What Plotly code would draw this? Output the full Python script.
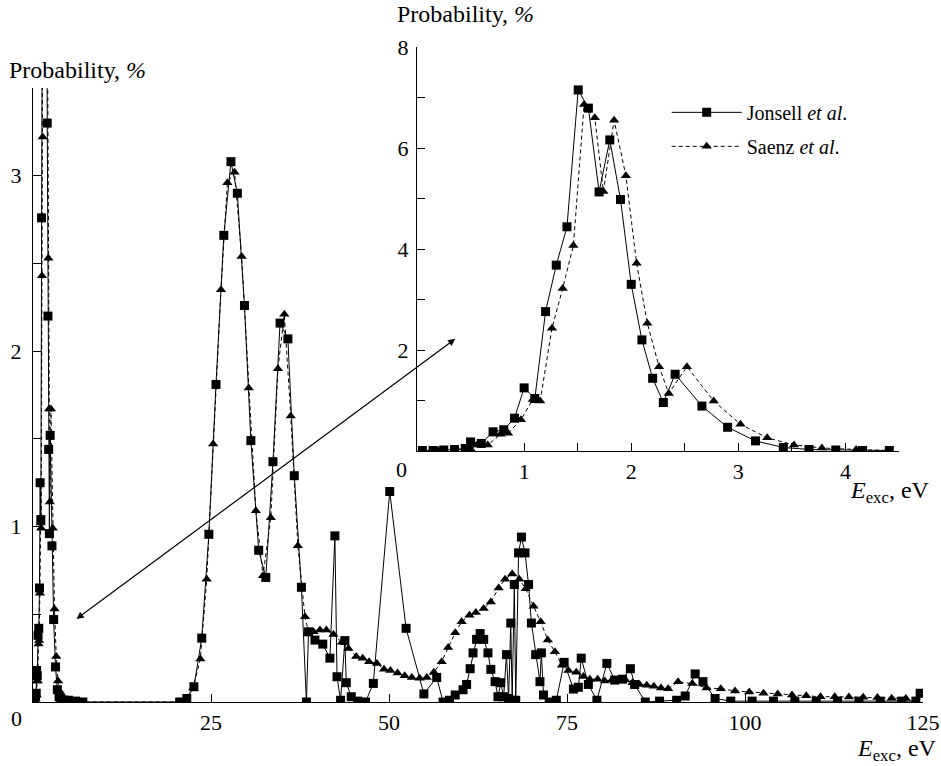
import plotly.graph_objects as go

# ---------- data: low-energy region (inset, 0-4.5 eV) ----------
jonsell_low_e = [0.05, 0.15, 0.25, 0.35, 0.45, 0.50, 0.60, 0.71, 0.81, 0.91, 1.00, 1.10, 1.20, 1.30, 1.40,
                 1.505, 1.60, 1.70, 1.80, 1.90, 2.00, 2.10, 2.20, 2.30, 2.41, 2.66, 2.90, 3.16, 3.42, 3.66,
                 3.91, 4.16, 4.41]
jonsell_low_p = [0.01, 0.01, 0.02, 0.03, 0.05, 0.18, 0.15, 0.38, 0.42, 0.65, 1.25, 1.04, 2.76, 3.68, 4.44,
                 7.15, 6.79, 5.13, 6.16, 4.98, 3.30, 2.20, 1.44, 0.96, 1.52, 0.89, 0.47, 0.20, 0.07, 0.03,
                 0.02, 0.01, 0.01]
saenz_low_e = [0.05, 0.20, 0.35, 0.50, 0.56, 0.66, 0.78, 0.85, 0.97, 1.08, 1.15, 1.26, 1.36, 1.46, 1.56,
               1.66, 1.74, 1.84, 1.95, 2.05, 2.15, 2.26, 2.35, 2.52, 2.77, 3.02, 3.27, 3.52, 3.78, 4.10, 4.40]
saenz_low_p = [0.01, 0.01, 0.02, 0.04, 0.12, 0.12, 0.33, 0.35, 0.62, 1.02, 0.99, 2.43, 3.22, 4.07, 6.86,
               6.60, 5.14, 6.55, 5.45, 3.72, 2.53, 1.67, 1.14, 1.67, 0.99, 0.53, 0.26, 0.12, 0.06, 0.03, 0.01]

# ---------- data: high-energy region (main panel, > 4.5 eV) ----------
jonsell_high_e = [5.0, 6.0, 7.0, 20.6, 21.6, 22.6, 23.7, 24.7, 25.7, 26.8, 27.8, 28.7, 29.7, 30.6, 31.7,
                  32.7, 33.7, 34.7, 35.8, 36.7, 37.7, 38.4, 38.7, 39.6, 40.7, 41.7, 42.4, 42.7, 43.2, 43.8,
                  44.0, 44.7, 45.6, 46.7, 47.8, 50.1, 52.4, 54.9, 56.7, 57.6, 58.5, 59.3, 60.4, 60.9, 61.4,
                  61.8, 62.3, 62.8, 63.3, 63.9, 64.3, 64.9, 65.3, 65.7, 66.1, 66.5, 66.8, 67.1, 67.3, 67.6,
                  67.8, 68.2, 68.6, 69.1, 69.6, 70.0, 70.6, 71.2, 71.4, 71.7, 72.5, 73.5, 74.6, 75.9, 76.6,
                  77.0, 78.0, 79.2, 80.6, 81.7, 82.8, 83.9, 84.5, 86.0, 88.0, 90.4, 91.6, 93.0, 94.1, 95.8,
                  98.0, 101.0, 104.0, 107.0, 110.0, 113.0, 116.0, 119.0, 122.0, 124.0, 124.6]
jonsell_high_p = [0.01, 0.005, 0.0, 0.0, 0.02, 0.087, 0.364, 0.956, 1.81, 2.66, 3.08, 2.90, 2.26, 1.49, 0.865,
                  0.71, 1.37, 2.16, 2.07, 1.29, 0.654, 0.0, 0.40, 0.353, 0.33, 0.25, 0.947, 0.144, 0.01, 0.35,
                  0.11, 0.03, 0.005, 0.0, 0.106, 1.20, 0.42, 0.046, 0.14, 0.0, 0.01, 0.04, 0.07, 0.10, 0.19,
                  0.28, 0.357, 0.39, 0.357, 0.28, 0.186, 0.116, 0.03, 0.11, 0.03, 0.27, 0.02, 0.45, 0.01, 0.67,
                  0.01, 0.85, 0.94, 0.85, 0.67, 0.45, 0.27, 0.116, 0.28, 0.04, 0.0, 0.01, 0.226, 0.074, 0.084,
                  0.25, 0.10, 0.01, 0.22, 0.125, 0.13, 0.19, 0.10, 0.0, 0.005, 0.01, 0.034, 0.16, 0.116, 0.02,
                  0.005, 0.005, 0.005, 0.005, 0.005, 0.005, 0.005, 0.005, 0.005, 0.005, 0.05]
saenz_high_e = [5.0, 6.0, 20.5, 21.5, 22.5, 23.5, 24.4, 25.3, 26.4, 27.3, 28.3, 29.3, 30.3, 31.3, 32.3,
                33.4, 34.4, 35.3, 36.2, 37.2, 38.2, 38.7, 39.4, 40.3, 41.2, 42.2, 43.4, 44.3, 45.4, 46.3,
                47.2, 48.3, 49.3, 50.2, 51.2, 52.2, 53.2, 54.3, 55.3, 56.3, 57.4, 58.3, 59.3, 60.2, 61.3,
                62.2, 63.3, 64.3, 65.4, 66.3, 67.3, 68.3, 69.2, 70.3, 71.3, 72.3, 73.3, 74.3, 75.2, 76.3,
                77.3, 78.2, 79.3, 80.3, 81.3, 82.2, 83.2, 84.2, 85.2, 86.2, 87.2, 88.2, 89.2, 90.6, 92.6,
                94.6, 96.6, 98.6, 100.6, 102.6, 104.6, 106.6, 108.6, 110.6, 112.6, 114.6, 116.6, 118.6,
                120.6, 122.6]
saenz_high_p = [0.005, 0.0, 0.0, 0.02, 0.08, 0.245, 0.70, 1.47, 2.35, 2.96, 3.02, 2.54, 1.79, 1.09, 0.72,
                1.05, 1.90, 2.21, 1.63, 0.89, 0.486, 0.40, 0.40, 0.41, 0.41, 0.385, 0.34, 0.305, 0.26, 0.25,
                0.23, 0.22, 0.186, 0.18, 0.165, 0.15, 0.14, 0.135, 0.14, 0.17, 0.23, 0.31, 0.395, 0.457, 0.495,
                0.51, 0.533, 0.57, 0.65, 0.70, 0.73, 0.70, 0.645, 0.546, 0.457, 0.353, 0.286, 0.21, 0.18, 0.17,
                0.145, 0.13, 0.13, 0.12, 0.125, 0.125, 0.125, 0.11, 0.10, 0.095, 0.09, 0.08, 0.075, 0.116, 0.105,
                0.08, 0.076, 0.063, 0.057, 0.05, 0.045, 0.04, 0.035, 0.03, 0.03, 0.028, 0.027, 0.025,
                0.022, 0.02]

main_x_ticks = [25, 50, 75, 100, 125]
main_y_ticks = [0.5, 1, 1.5, 2, 2.5, 3]
main_y_labels = ["", "1", "", "2", "", "3"]
inset_x_ticks = [0.5, 1, 1.5, 2, 2.5, 3, 3.5, 4, 4.5]
inset_x_labels = ["", "1", "", "2", "", "3", "", "4", ""]
inset_y_ticks = [1, 2, 3, 4, 5, 6, 7, 8]
inset_y_labels = ["", "2", "", "4", "", "6", "", "8"]

FONT = "'Liberation Serif', 'Times New Roman', 'DejaVu Serif', serif"
SAENZ_DASH = "4px,3px"

jonsell_all_e = jonsell_low_e + jonsell_high_e
jonsell_all_p = jonsell_low_p + jonsell_high_p
saenz_all_e = saenz_low_e + saenz_high_e
saenz_all_p = saenz_low_p + saenz_high_p

fig = go.Figure()

# main panel
fig.add_trace(go.Scatter(x=jonsell_all_e, y=jonsell_all_p, mode="lines+markers",
                         line=dict(color="black", width=1),
                         marker=dict(symbol="square", size=9, color="black"),
                         showlegend=False, xaxis="x", yaxis="y"))
fig.add_trace(go.Scatter(x=saenz_all_e, y=saenz_all_p, mode="lines+markers",
                         line=dict(color="black", width=1, dash=SAENZ_DASH),
                         marker=dict(symbol="triangle-up", size=9, color="black"),
                         showlegend=False, xaxis="x", yaxis="y"))
# inset
fig.add_trace(go.Scatter(x=jonsell_low_e, y=jonsell_low_p, mode="lines+markers",
                         name="Jonsell <i>et al</i>.", legendgroup="a",
                         line=dict(color="black", width=1),
                         marker=dict(symbol="square", size=9, color="black"),
                         xaxis="x2", yaxis="y2"))
fig.add_trace(go.Scatter(x=saenz_low_e, y=saenz_low_p, mode="lines+markers",
                         name="Saenz <i>et al</i>.", legendgroup="b",
                         line=dict(color="black", width=1, dash=SAENZ_DASH),
                         marker=dict(symbol="triangle-up", size=9, color="black"),
                         xaxis="x2", yaxis="y2"))

axis_common = dict(showline=True, linecolor="black", linewidth=1.3, ticks="inside", ticklen=8,
                   tickcolor="black", tickwidth=1, showgrid=False, zeroline=False, automargin=False,
                   tickfont=dict(family=FONT, size=22, color="black"))

fig.update_layout(
    template="none",
    width=941, height=766,
    margin=dict(l=33, r=18, t=47, b=64, pad=0),
    paper_bgcolor="white", plot_bgcolor="rgba(0,0,0,0)",
    font=dict(family=FONT, color="black"),
    xaxis=dict(domain=[0, 1], range=[0, 125], tickvals=main_x_ticks, anchor="y", **axis_common),
    yaxis=dict(domain=[0, 0.9374], range=[0, 3.5], tickvals=main_y_ticks, ticktext=main_y_labels,
               anchor="x", ticklabelstandoff=6, **axis_common),
    xaxis2=dict(domain=[0.4315, 0.973], range=[0, 4.5], tickvals=inset_x_ticks, ticktext=inset_x_labels,
                anchor="y2", **axis_common),
    yaxis2=dict(domain=[0.3832, 1.0], range=[0, 8], tickvals=inset_y_ticks, ticktext=inset_y_labels,
                anchor="x2", ticklabelstandoff=3, **axis_common),
    legend=dict(x=0.712, y=0.93, xanchor="left", yanchor="top", bgcolor="rgba(0,0,0,0)",
                font=dict(family=FONT, size=20, color="black"), itemwidth=70,
                traceorder="grouped", tracegroupgap=5),
)

ann_font = dict(family=FONT, size=24, color="black")
lab_font = dict(family=FONT, size=24, color="black")
fig.add_annotation(text="Probability, <i>%</i>", xref="paper", yref="paper", x=-0.029, y=0.965,
                   xanchor="left", yanchor="middle", showarrow=False, font=ann_font)
fig.add_annotation(text="Probability, <i>%</i>", xref="paper", yref="paper", x=0.407, y=1.050,
                   xanchor="left", yanchor="middle", showarrow=False, font=ann_font)
fig.add_annotation(text="<i>E</i><sub>exc</sub>, eV", xref="paper", yref="paper", x=1.018, y=-0.074,
                   xanchor="right", yanchor="middle", showarrow=False, font=lab_font)
fig.add_annotation(text="<i>E</i><sub>exc</sub>, eV", xref="paper", yref="paper", x=1.010, y=0.320,
                   xanchor="right", yanchor="middle", showarrow=False, font=lab_font)
fig.add_annotation(text="0", xref="paper", yref="paper", x=-0.018, y=-0.025,
                   xanchor="center", yanchor="middle", showarrow=False,
                   font=dict(family=FONT, size=22, color="black"))
fig.add_annotation(text="0", xref="paper", yref="paper", x=0.4146, y=0.355,
                   xanchor="center", yanchor="middle", showarrow=False,
                   font=dict(family=FONT, size=22, color="black"))
# double-headed arrow linking the low-energy peak with the inset
fig.add_annotation(x=59.3, y=2.07, ax=5.9, ay=0.467, xref="x", yref="y", axref="x", ayref="y",
                   text="", showarrow=True, arrowhead=2, startarrowhead=2, arrowside="end+start",
                   arrowsize=1.2, arrowwidth=1.2, arrowcolor="black")

fig.write_html("out.html", config={"displayModeBar": False},
               post_script="document.body.style.margin='0';document.body.style.overflow='hidden';")
